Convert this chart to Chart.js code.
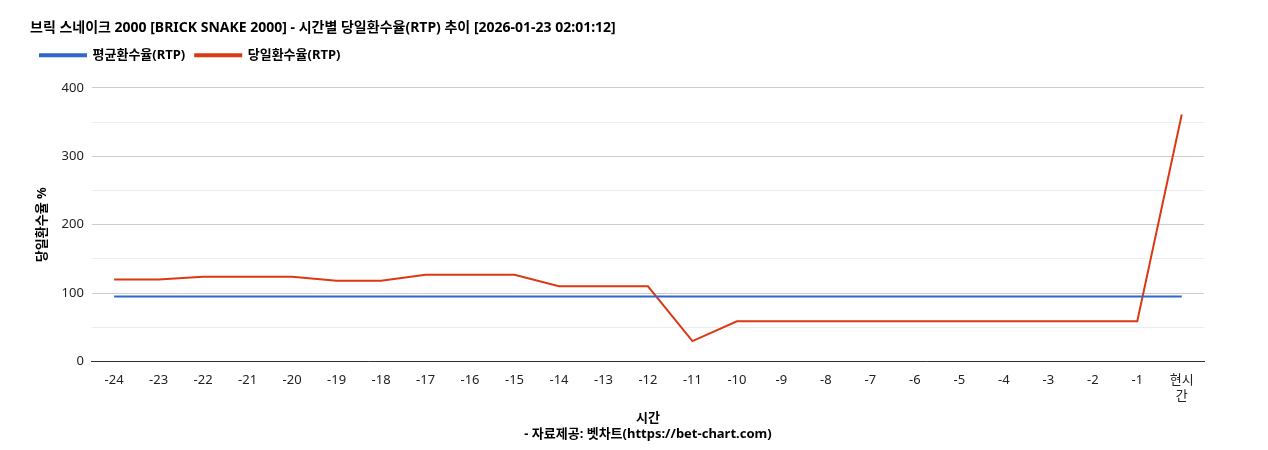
<!DOCTYPE html>
<html>
<head>
<meta charset="utf-8">
<script src="https://cdn.jsdelivr.net/npm/chart.js@4"></script>
<style>
  html, body { margin: 0; padding: 0; background: #fff; }
  #wrap { width: 1268px; height: 450px; }
</style>
</head>
<body>
<div id="wrap"><canvas id="grafico"></canvas></div>
<script>
const categorias = ['-24','-23','-22','-21','-20','-19','-18','-17','-16','-15','-14','-13','-12','-11','-10','-9','-8','-7','-6','-5','-4','-3','-2','-1',['현시','간']];
const mediaRTP = [95,95,95,95,95,95,95,95,95,95,95,95,95,95,95,95,95,95,95,95,95,95,95,95,95];
const diaRTP = [120,120,124,124,124,118,118,127,127,127,110,110,110,30,59,59,59,59,59,59,59,59,59,59,361];

Chart.defaults.font.family = '"Noto Sans", "Noto Sans CJK KR", sans-serif';
Chart.defaults.color = '#222';

// espaço extra abaixo da legenda
const legendaEspaco = {
    id: 'legendaEspaco',
    beforeInit(chart) {
        const fitOriginal = chart.legend.fit;
        chart.legend.fit = function () { fitOriginal.bind(chart.legend)(); this.height += 16; };
    }
};

const ctx = document.getElementById('grafico').getContext('2d');
new Chart(ctx, {
    type: 'line',
    data: {
        labels: categorias,
        datasets: [
            { label: '평균환수율(RTP)', data: mediaRTP, borderColor: '#3366cc', backgroundColor: '#3366cc', borderWidth: 2, pointRadius: 0, tension: 0 },
            { label: '당일환수율(RTP)', data: diaRTP, borderColor: '#dc3912', backgroundColor: '#dc3912', borderWidth: 2, pointRadius: 0, tension: 0 }
        ]
    },
    options: {
        responsive: true,
        maintainAspectRatio: false,
        animation: false,
        layout: { padding: { left: 30, right: 64, top: 12, bottom: 4 } },
        plugins: {
            title: {
                display: true, align: 'start',
                text: '브릭 스네이크 2000 [BRICK SNAKE 2000] - 시간별 당일환수율(RTP) 추이 [2026-01-23 02:01:12]',
                font: { size: 14, weight: 'bold' }, color: '#000', padding: { top: 8, bottom: 2 }
            },
            legend: {
                align: 'start',
                labels: { boxWidth: 46, boxHeight: 2, font: { size: 13, weight: 'bold' }, color: '#000', padding: 10 }
            },
            tooltip: { enabled: false }
        },
        scales: {
            y: {
                min: 0, max: 400,
                ticks: { stepSize: 50, font: { size: 13 }, padding: 8, callback: v => v % 100 === 0 ? v : '' },
                grid: { color: c => c.tick.value % 100 === 0 ? '#cccccc' : '#ececec', drawTicks: false },
                border: { display: false },
                title: { display: true, text: '당일환수율 %', font: { size: 13, weight: 'bold' }, color: '#000' }
            },
            x: {
                offset: true,
                ticks: { font: { size: 13 }, maxRotation: 0, autoSkip: false },
                grid: { display: false },
                border: { color: '#333' },
                title: { display: true, text: ['시간', '- 자료제공: 벳차트(https://bet-chart.com)'], font: { size: 13, weight: 'bold' }, color: '#000' }
            }
        }
    },
    plugins: [legendaEspaco]
});
</script>
</body>
</html>
